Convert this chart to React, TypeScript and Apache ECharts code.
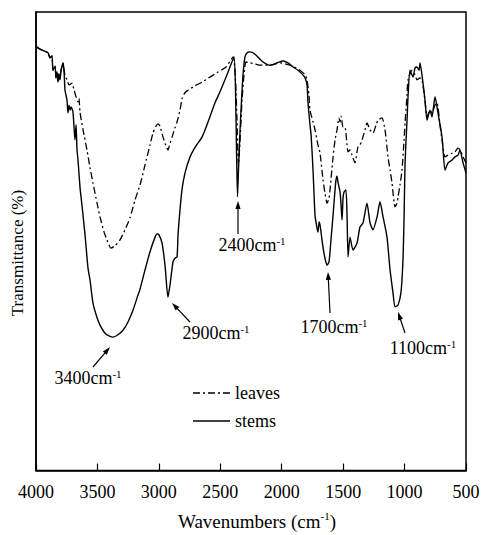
import React, { useEffect, useRef } from 'react';
import * as echarts from 'echarts';

const FONT = '"Liberation Serif", "Times New Roman", Times, serif';

// Series values: [wavenumber (cm-1), transmittance (%)]
const leaves: [number, number][] = [
  [3996, 92.4], [3967, 91.9], [3935, 91.5], [3902, 91.1], [3886, 90.0], [3870, 90.4], [3862, 87.3], [3845, 88.2],
  [3837, 85.6], [3829, 86.9], [3821, 84.7], [3813, 86.5], [3805, 85.2], [3796, 87.3], [3788, 88.2], [3780, 88.9],
  [3772, 87.3], [3764, 86.3], [3748, 85.2], [3731, 84.1], [3707, 84.5], [3691, 83.0], [3674, 81.5], [3658, 80.4],
  [3650, 81.2], [3642, 78.2], [3617, 74.3], [3585, 69.9], [3560, 66.0], [3536, 62.7], [3503, 58.3], [3479, 55.3],
  [3446, 52.0], [3422, 50.3], [3390, 48.5], [3357, 49.0], [3316, 50.3], [3276, 52.5], [3235, 55.1], [3194, 59.0],
  [3153, 62.3], [3113, 66.6], [3072, 71.0], [3048, 73.6], [3023, 75.1], [3007, 75.6], [2991, 75.1], [2966, 72.7],
  [2942, 70.8], [2926, 69.9], [2909, 71.4], [2893, 72.7], [2869, 74.7], [2852, 76.0], [2828, 78.6], [2812, 81.0],
  [2795, 82.1], [2771, 82.8], [2706, 83.9], [2649, 84.7], [2584, 85.8], [2519, 86.9], [2453, 88.0], [2396, 90.2],
  [2376, 85.2], [2364, 76.4], [2352, 66.6], [2339, 72.1], [2323, 80.8], [2307, 86.3], [2291, 89.1], [2258, 88.9],
  [2217, 88.7], [2177, 88.4], [2095, 88.4], [2014, 88.9], [1932, 88.4], [1851, 87.3], [1810, 86.3], [1794, 85.2],
  [1778, 81.9], [1770, 78.6], [1745, 76.0], [1729, 74.3], [1705, 71.0], [1688, 69.2], [1664, 63.4], [1648, 60.5],
  [1631, 58.3], [1615, 59.4], [1607, 61.2], [1582, 68.4], [1566, 72.1], [1550, 74.3], [1534, 76.9], [1525, 76.0],
  [1517, 77.3], [1501, 74.9], [1485, 74.9], [1460, 69.5], [1444, 69.9], [1428, 68.8], [1403, 67.1], [1387, 69.5],
  [1379, 70.6], [1363, 71.0], [1346, 72.1], [1322, 74.3], [1306, 75.8], [1281, 74.3], [1257, 73.6], [1232, 75.4],
  [1216, 76.4], [1184, 76.9], [1159, 74.3], [1135, 68.4], [1118, 65.5], [1102, 62.7], [1078, 57.5], [1061, 58.3],
  [1053, 59.7], [1037, 62.3], [1021, 65.5], [1004, 72.1], [996, 75.8], [980, 81.9], [972, 85.2], [939, 87.3],
  [915, 86.3], [899, 85.2], [874, 85.6], [858, 85.2], [834, 80.8], [817, 77.1], [793, 78.6], [777, 78.0],
  [752, 79.7], [736, 80.2], [712, 75.4], [695, 72.1], [671, 68.4], [646, 68.8], [614, 69.2], [589, 69.5],
  [565, 70.3], [549, 69.9], [524, 68.4], [500, 67.1],
];

const stems: [number, number][] = [
  [3996, 92.4], [3967, 91.9], [3935, 91.5], [3902, 91.1], [3886, 90.0], [3870, 90.4], [3862, 87.3], [3845, 88.2],
  [3837, 85.6], [3829, 86.9], [3821, 84.7], [3813, 86.5], [3805, 85.2], [3796, 87.3], [3788, 88.2], [3780, 88.9],
  [3772, 87.3], [3764, 83.0], [3748, 80.8], [3740, 78.0], [3731, 79.7], [3723, 78.6], [3715, 79.3], [3699, 78.2],
  [3683, 72.1], [3674, 75.4], [3666, 69.9], [3658, 67.7], [3642, 61.8], [3626, 57.9], [3601, 51.4], [3577, 44.2],
  [3560, 41.5], [3536, 36.5], [3503, 33.3], [3479, 31.7], [3446, 30.2], [3422, 29.6], [3373, 29.1], [3333, 29.6],
  [3292, 30.6], [3251, 32.4], [3210, 35.0], [3178, 37.6], [3153, 39.6], [3113, 43.7], [3072, 47.7], [3031, 50.9],
  [3015, 51.6], [2999, 51.4], [2974, 49.6], [2950, 44.8], [2926, 37.8], [2909, 40.5], [2885, 45.5], [2869, 46.3],
  [2852, 46.6], [2844, 51.4], [2828, 56.8], [2812, 61.2], [2787, 64.9], [2746, 68.4], [2698, 70.8], [2649, 72.7],
  [2600, 76.0], [2543, 80.2], [2502, 82.6], [2462, 85.2], [2421, 88.0], [2388, 90.2], [2376, 83.0], [2368, 69.9],
  [2360, 59.7], [2352, 65.5], [2339, 74.3], [2327, 80.8], [2315, 86.3], [2299, 90.2], [2282, 91.1], [2258, 91.3],
  [2217, 90.8], [2152, 89.1], [2095, 88.4], [2038, 88.9], [1989, 89.3], [1949, 88.9], [1908, 88.0], [1867, 87.3],
  [1835, 86.5], [1810, 85.6], [1794, 84.1], [1786, 80.2], [1770, 75.4], [1761, 73.2], [1745, 65.5], [1729, 55.7],
  [1713, 52.9], [1705, 52.0], [1696, 54.2], [1688, 53.5], [1672, 50.3], [1664, 48.7], [1648, 46.3], [1631, 44.8],
  [1615, 45.5], [1599, 50.3], [1582, 55.7], [1566, 61.2], [1558, 63.4], [1550, 64.2], [1542, 62.9], [1525, 60.7],
  [1517, 57.9], [1509, 54.6], [1501, 59.4], [1493, 60.7], [1477, 61.2], [1468, 55.3], [1460, 46.6], [1444, 50.9],
  [1420, 48.1], [1387, 49.6], [1363, 53.1], [1338, 54.0], [1306, 58.3], [1281, 54.0], [1257, 52.5], [1224, 55.3],
  [1200, 58.6], [1175, 55.3], [1143, 50.9], [1118, 43.7], [1094, 38.7], [1078, 35.7], [1053, 36.1], [1029, 38.9],
  [1013, 45.9], [1004, 55.3], [996, 67.1], [980, 76.4], [972, 81.5], [956, 87.3], [931, 85.8], [915, 87.8],
  [899, 88.0], [882, 87.3], [874, 88.9], [850, 84.5], [834, 80.8], [817, 76.4], [793, 78.6], [777, 77.1],
  [752, 81.5], [728, 78.0], [695, 72.7], [671, 65.5], [646, 67.1], [614, 67.7], [589, 68.4], [565, 68.8],
  [549, 69.9], [524, 67.1], [500, 64.9],
];

const seriesNames = ['leaves', 'stems'];
const peakLabels = ['3400', '2900', '2400', '1700', '1100'];
const yTitle = 'Transmittance (%)';

// annotation layout (pixels): text centre and arrow tail -> head
const annotationLayout = [
  { tx: 88, ty: 378, x1: 93, y1: 367, x2: 110, y2: 347 },
  { tx: 216, ty: 333, x1: 190, y1: 322, x2: 172, y2: 303 },
  { tx: 252, ty: 245, x1: 238, y1: 234, x2: 238, y2: 201 },
  { tx: 334, ty: 327, x1: 330, y1: 313, x2: 328, y2: 272 },
  { tx: 423, ty: 348, x1: 405, y1: 333, x2: 398, y2: 312 },
];

const richText = {
  n: { fontSize: 18, fontFamily: FONT, fill: '#000', color: '#000', lineHeight: 20 },
  s: { fontSize: 11, fontFamily: FONT, fill: '#000', color: '#000', verticalAlign: 'top', lineHeight: 12 },
};

function arrow(x1: number, y1: number, x2: number, y2: number): any[] {
  const dx = x2 - x1;
  const dy = y2 - y1;
  const len = Math.sqrt(dx * dx + dy * dy);
  const ux = dx / len;
  const uy = dy / len;
  const px = -uy;
  const py = ux;
  const L = 8;
  const W = 2.6;
  const bx = x2 - ux * L;
  const by = y2 - uy * L;
  return [
    {
      type: 'line',
      shape: { x1, y1, x2: bx + ux * 2, y2: by + uy * 2 },
      style: { stroke: '#000', lineWidth: 1.2 },
      silent: true,
    },
    {
      type: 'polygon',
      shape: { points: [[x2, y2], [bx + px * W, by + py * W], [bx - px * W, by - py * W]] },
      style: { fill: '#000' },
      silent: true,
    },
  ];
}

export default function App() {
  const ref = useRef<HTMLDivElement>(null);

  useEffect(() => {
    document.body.style.margin = '0';
    if (!ref.current) return;
    const chart = echarts.init(ref.current, null, { renderer: 'svg' });

    const graphics: any[] = [];
    annotationLayout.forEach((a, i) => {
      graphics.push({
        type: 'text',
        x: a.tx,
        y: a.ty,
        silent: true,
        style: {
          text: `{n|${peakLabels[i]}cm}{s|-1}`,
          align: 'center',
          verticalAlign: 'middle',
          rich: richText,
        },
      });
      graphics.push(...arrow(a.x1, a.y1, a.x2, a.y2));
    });

    // y-axis title
    graphics.push({
      type: 'text',
      x: 17,
      y: 253,
      rotation: Math.PI / 2,
      silent: true,
      style: {
        text: yTitle,
        align: 'center',
        verticalAlign: 'middle',
        fontFamily: FONT,
        fontSize: 17,
        fill: '#000',
      },
    });

    // legend
    const legendStyles = [
      { y: 393, dash: [7, 3, 2, 3] as any },
      { y: 421, dash: null as any },
    ];
    legendStyles.forEach((l, i) => {
      graphics.push({
        type: 'line',
        silent: true,
        shape: { x1: 193, y1: l.y, x2: 230, y2: l.y },
        style: { stroke: '#000', lineWidth: 1.4, lineDash: l.dash },
      });
      graphics.push({
        type: 'text',
        x: 235,
        y: l.y,
        silent: true,
        style: {
          text: seriesNames[i],
          align: 'left',
          verticalAlign: 'middle',
          fontFamily: FONT,
          fontSize: 18,
          fill: '#000',
        },
      });
    });

    chart.setOption({
      animation: false,
      backgroundColor: '#fff',
      grid: {
        left: 36,
        top: 12,
        right: 15,
        bottom: 64.5,
        show: true,
        borderColor: '#000',
        borderWidth: 1.5,
        containLabel: false,
        outerBoundsMode: 'none',
      },
      xAxis: {
        type: 'value',
        min: 500,
        max: 4000,
        interval: 500,
        inverse: true,
        name: '{n|Wavenumbers (cm}{s|-1}{n|)}',
        nameLocation: 'middle',
        nameGap: 40,
        nameTextStyle: {
          fontFamily: FONT,
          fontSize: 19,
          color: '#000',
          padding: [0, 0, 0, 12],
          rich: {
            n: { fontFamily: FONT, fontSize: 19, color: '#000', lineHeight: 21 },
            s: { fontFamily: FONT, fontSize: 11, color: '#000', verticalAlign: 'top', lineHeight: 12 },
          },
        },
        axisLine: { show: true, lineStyle: { color: '#000', width: 1.5 } },
        axisTick: { show: true, inside: true, length: 7, lineStyle: { color: '#000', width: 1.2 } },
        axisLabel: {
          fontFamily: FONT,
          fontSize: 18,
          color: '#000',
          margin: 12,
          formatter: (v: number) => String(v),
        },
        splitLine: { show: false },
      },
      yAxis: {
        type: 'value',
        min: 0,
        max: 100,
        axisLine: { show: true, lineStyle: { color: '#000', width: 1.5 } },
        axisTick: { show: false },
        axisLabel: { show: false },
        splitLine: { show: false },
      },
      series: [
        {
          name: seriesNames[0],
          type: 'line',
          data: leaves,
          symbol: 'none',
          smooth: 0.2,
          lineStyle: { color: '#000', width: 1.3, type: [7, 3, 2, 3] },
          itemStyle: { color: '#000' },
          z: 3,
        },
        {
          name: seriesNames[1],
          type: 'line',
          data: stems,
          symbol: 'none',
          smooth: 0.2,
          lineStyle: { color: '#000', width: 1.4, type: 'solid' },
          itemStyle: { color: '#000' },
          z: 2,
        },
      ],
      graphic: graphics,
    });

    return () => {
      chart.dispose();
    };
  }, []);

  return <div ref={ref} style={{ width: 481, height: 535 }} />;
}
